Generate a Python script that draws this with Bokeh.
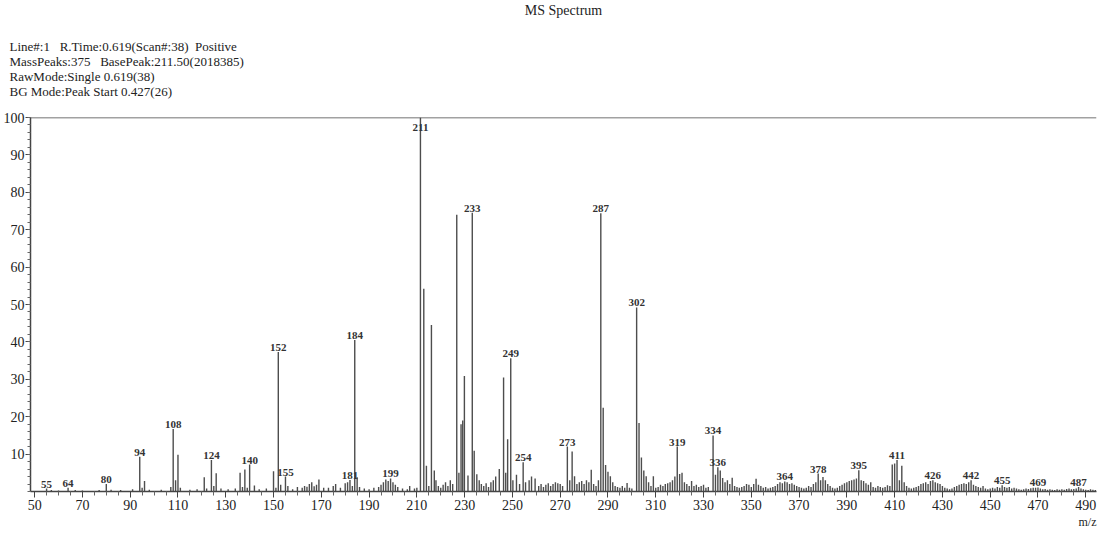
from bokeh.plotting import figure
from bokeh.models import ColumnDataSource, Span, FixedTicker, Range1d, Title
from bokeh.core.properties import value
from bokeh.embed import file_html
from bokeh.resources import INLINE

# ---------------- data (m/z, relative intensity %) ----------------
peaks_low = [(55, 0.8), (57, 0.4), (60, 0.3), (64, 1.0), (67, 0.4), (70, 0.3), (77, 0.4),
             (80, 2.0), (82, 0.5), (86, 0.4), (91, 0.6), (94, 9.3), (95, 1.0), (96, 2.8),
             (98, 0.5), (103, 0.5), (107, 1.2), (108, 16.7), (109, 3.0), (110, 9.8), (111, 1.0),
             (115, 0.5), (118, 0.6), (121, 3.8), (122, 0.8), (124, 8.4), (125, 1.5), (126, 4.9),
             (128, 0.8), (131, 0.6), (134, 0.8), (136, 5.0), (137, 1.2), (138, 5.9), (139, 1.0),
             (140, 7.2), (142, 1.6), (144, 0.6), (147, 0.8), (150, 5.4), (151, 1.0), (152, 37.3),
             (153, 1.8), (155, 4.0), (156, 1.5), (158, 0.6), (160, 1.2), (162, 1.0), (163, 1.5),
             (164, 1.3), (165, 2.0), (166, 2.5), (167, 1.4), (168, 1.8), (169, 3.2), (171, 1.0),
             (173, 1.0), (175, 1.5), (176, 2.0), (178, 1.0), (180, 2.2), (181, 2.5), (182, 3.1),
             (183, 1.5), (184, 40.5), (185, 3.8), (186, 1.2), (188, 0.8), (190, 0.6), (192, 1.0),
             (194, 1.2), (195, 1.8), (196, 2.5), (197, 3.2), (198, 2.8), (199, 3.5), (200, 2.5),
             (201, 1.8), (202, 1.2), (204, 0.8), (206, 0.6), (207, 1.5), (209, 0.8)]

peaks_mid = [(210, 1.0), (211.5, 100.0), (212.9, 54.2), (214, 6.9), (215, 1.5), (216.1, 44.5),
             (217.3, 5.6), (218, 3.0), (219, 1.5), (220, 1.0), (221, 1.8), (222, 2.5), (223, 1.5),
             (224, 3.0), (225, 2.0), (226.7, 74.0), (227.6, 5.0), (228.5, 18.0), (229.2, 19.0),
             (229.9, 30.9), (231.4, 4.3), (233.2, 74.5), (234, 10.9), (235.1, 4.6), (236.1, 3.0),
             (237, 2.0), (238, 1.5), (239, 2.2), (240, 1.2), (241, 2.5), (242, 3.0), (243, 4.0),
             (244.5, 6.0), (246.3, 30.5), (247.2, 5.0), (248, 14.0), (249.3, 35.6), (250.2, 3.0),
             (251.7, 4.5), (253, 2.0), (254.5, 7.8), (255.5, 2.5), (257, 3.0), (258, 4.0),
             (259.5, 3.5), (261, 1.5), (262, 2.0), (263, 1.2), (264, 1.8), (265, 2.2), (266, 1.5),
             (267, 2.0), (268, 2.5), (269, 2.2), (270, 2.0), (271, 1.5)]

peaks_high = [(273, 12.0), (274, 3.0), (275, 10.7), (276, 4.1), (277, 2.0), (278, 2.5), (279, 2.8),
              (280, 2.0), (281, 3.0), (282, 2.5), (283, 5.8), (284, 2.0), (285, 1.5), (286, 3.0),
              (287, 74.4), (288, 22.4), (289, 7.1), (290, 5.3), (291, 4.1), (292, 2.5), (293, 1.5),
              (294, 1.2), (295, 1.0), (296, 1.5), (297, 1.0), (298, 2.3), (299, 1.0), (300, 0.8),
              (302, 49.2), (303, 18.3), (304, 9.1), (305, 5.6), (306, 4.1), (307, 2.5), (308, 1.5),
              (309, 4.1), (310, 1.0), (311, 1.2), (312, 1.8), (313, 1.5), (314, 2.0), (315, 2.2),
              (316, 2.5), (317, 3.0), (318, 4.0), (319, 12.0), (320, 4.7), (321, 5.0), (322, 2.5),
              (323, 2.0), (324, 1.5), (325, 2.8), (326, 1.5), (327, 1.8), (328, 1.2), (329, 1.5),
              (330, 1.8), (331, 1.0), (332, 1.2), (334, 15.0), (335, 4.5), (336, 6.5), (337, 5.6),
              (338, 3.6), (339, 2.5), (340, 3.0), (341, 2.0), (342, 3.7), (343, 1.5), (344, 1.2),
              (345, 1.0)]

peaks_tail = [(346, 1.2), (347, 1.5), (348, 2.0), (349, 1.8), (350, 1.2), (351, 2.0), (352, 3.4),
              (353, 1.8), (354, 1.5), (355, 1.0), (356, 1.2), (357, 0.8), (358, 1.0), (359, 1.2),
              (360, 1.5), (361, 2.0), (362, 2.5), (363, 2.2), (364, 2.7), (365, 2.5), (366, 2.0),
              (367, 2.2), (368, 1.8), (369, 1.5), (370, 1.2), (371, 1.0), (372, 0.8), (373, 1.0),
              (374, 1.5), (375, 1.2), (376, 2.0), (377, 2.5), (378, 4.8), (379, 3.0), (380, 3.9),
              (381, 3.0), (382, 2.0), (383, 1.5), (384, 1.0), (385, 0.8), (386, 1.0), (387, 1.5),
              (388, 1.8), (389, 2.2), (390, 2.5), (391, 2.8), (392, 3.0), (393, 3.2), (394, 3.5),
              (395, 5.7), (396, 3.0), (397, 2.8), (398, 2.2), (399, 1.8), (400, 2.5), (401, 1.2),
              (402, 1.0), (403, 1.5), (404, 1.2), (405, 1.0), (406, 1.2), (407, 1.7), (408, 1.5),
              (409, 7.2), (410, 7.5), (411, 8.4), (412, 3.0), (413, 6.9), (414, 2.5), (415, 1.5),
              (416, 1.0), (417, 0.8), (418, 1.0), (419, 1.2), (420, 1.5), (421, 2.0), (422, 2.2),
              (423, 2.5), (424, 2.0), (425, 2.8), (426, 3.0), (427, 2.5), (428, 2.2), (429, 2.0),
              (430, 1.5), (431, 1.0), (432, 0.8), (433, 0.6), (434, 0.8), (435, 1.2), (436, 1.5),
              (437, 1.8), (438, 2.0), (439, 2.2), (440, 2.0), (441, 2.5), (442, 3.0), (443, 1.8),
              (444, 1.5), (445, 1.2), (446, 1.0), (447, 1.5), (448, 0.8), (449, 0.6), (450, 0.8),
              (451, 1.0), (452, 0.8), (453, 1.2), (454, 1.0), (455, 1.7), (456, 1.2), (457, 1.0),
              (458, 1.2), (459, 0.8), (460, 1.0), (461, 0.8), (462, 0.6), (463, 0.5), (464, 0.6),
              (465, 0.8), (466, 0.7), (467, 0.9), (468, 1.0), (469, 1.0), (470, 1.1), (471, 0.8),
              (472, 0.6), (473, 0.7), (474, 0.5), (475, 0.6), (476, 0.5), (477, 0.4), (478, 0.6),
              (479, 0.5), (480, 0.6), (481, 0.5), (482, 0.7), (483, 0.8), (484, 0.6), (485, 0.7),
              (486, 0.8), (487, 1.2), (488, 0.8), (489, 0.6), (490, 0.5), (491, 0.4), (492, 0.6),
              (493, 0.5), (494, 0.4)]

peak_labels = [55, 64, 80, 94, 108, 124, 140, 152, 155, 181, 184, 199, 211, 233, 249, 254,
               273, 287, 302, 319, 334, 336, 364, 378, 395, 411, 426, 442, 455, 469, 487]

x_ticks = list(range(50, 491, 20))
y_ticks = list(range(10, 101, 10))

header_lines = ["Line#:1\u00a0\u00a0\u00a0R.Time:0.619(Scan#:38)\u00a0\u00a0Positive",
                "MassPeaks:375\u00a0\u00a0\u00a0BasePeak:211.50(2018385)",
                "RawMode:Single 0.619(38)",
                "BG Mode:Peak Start 0.427(26)"]
title_text = "MS Spectrum"
x_unit = "m/z"

# ---------------- build ----------------
peaks = peaks_low + peaks_mid + peaks_high + peaks_tail
mz = [a for a, b in peaks]
inten = [b for a, b in peaks]

lx, ly, lt = [], [], []
for lab in peak_labels:
    cand = [(b, a) for a, b in peaks if abs(a - lab) <= 1.0]
    b, a = max(cand)
    lx.append(a)
    ly.append(min(b, 96.0))
    lt.append(str(lab))

X0, X1 = 48.27, 494.5
p = figure(frame_width=1066, frame_height=374, output_backend="svg", toolbar_location=None,
           x_range=Range1d(X0, X1), y_range=Range1d(0, 100),
           min_border_left=30, min_border_right=4, min_border_top=109, min_border_bottom=45,
           background_fill_color="white", border_fill_color="white")
p.outline_line_color = None
p.grid.visible = False

src = ColumnDataSource(dict(mz=mz, inten=inten))
p.segment(x0="mz", y0=0, x1="mz", y1="inten", source=src, line_color="#4d4d4d", line_width=1.4)

lsrc = ColumnDataSource(dict(x=lx, y=ly, t=lt))
p.text(x="x", y="y", text="t", source=lsrc, text_font=value("Liberation Serif"),
       text_font_size="11px", text_align="center", text_baseline="bottom", y_offset=-1,
       text_color="#333333", text_font_style="bold")

p.add_layout(Span(location=100, dimension="width", line_color="#444444", line_width=1.5))

minor_x = [v for v in range(50, 495, 5) if v not in x_ticks]
p.xaxis.ticker = FixedTicker(ticks=x_ticks, minor_ticks=minor_x)
p.yaxis.ticker = FixedTicker(ticks=y_ticks, minor_ticks=list(range(0, 101, 2)))
for ax in (p.xaxis, p.yaxis):
    ax.axis_line_color = "#444444"
    ax.axis_line_width = 1.5
    ax.major_tick_line_color = "#444444"
    ax.minor_tick_line_color = "#666666"
    ax.major_label_text_font = "Liberation Serif"
    ax.major_label_text_font_size = "14px"
    ax.major_label_text_color = "#222222"
    ax.major_tick_in = 0
    ax.minor_tick_in = 0
p.xaxis.major_tick_out = 6
p.xaxis.minor_tick_out = 4
p.xaxis.major_label_standoff = 2
p.yaxis.major_tick_out = 5
p.yaxis.minor_tick_out = 3
p.yaxis.major_label_standoff = 1

# header block (nearest to plot first), then the centred title above it
p.add_layout(Title(text="\n".join(header_lines), align="left", offset=-21, standoff=38,
                   text_font="Liberation Serif", text_font_size="13px",
                   text_font_style="normal", text_color="#222222"), "above")
p.add_layout(Title(text=title_text, align="center", standoff=0,
                   text_font="Liberation Serif", text_font_size="14px",
                   text_font_style="normal", text_color="#222222"), "above")
p.add_layout(Title(text=x_unit, align="right", standoff=0,
                   text_font="Liberation Serif", text_font_size="12px",
                   text_font_style="normal", text_color="#222222"), "below")

open("out.html", "w").write(file_html(p, INLINE))
